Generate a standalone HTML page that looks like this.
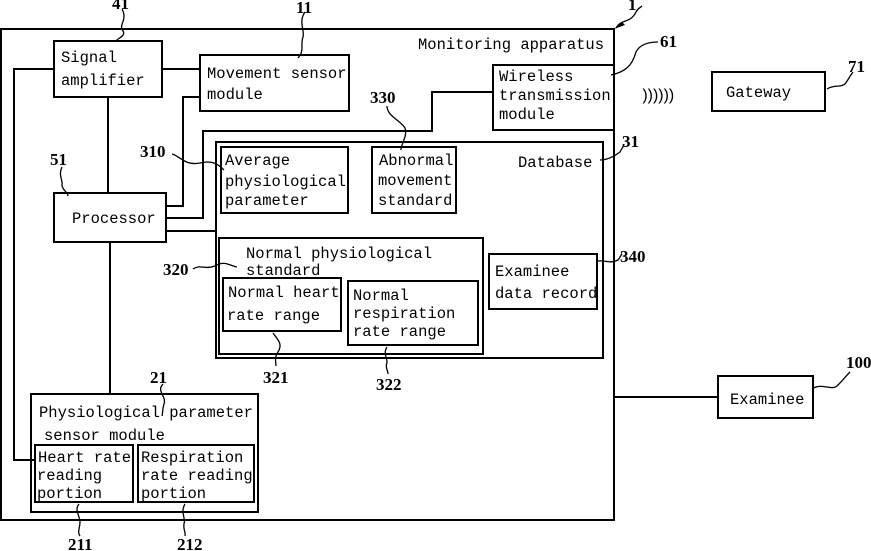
<!DOCTYPE html>
<html><head><meta charset="utf-8"><style>
html,body{margin:0;padding:0;background:#fff;}
svg{display:block;}
text{font-family:"Liberation Mono",monospace;font-size:15.5px;fill:#000;}
.n{font-family:"Liberation Serif",serif;font-weight:bold;font-size:17px;}
</style></head><body>
<svg width="871" height="551" viewBox="0 0 871 551" xmlns="http://www.w3.org/2000/svg">
<g fill="none" stroke="#000" stroke-width="2">
<!-- outer -->
<rect x="1" y="29" width="613" height="491"/>
<!-- boxes -->
<rect x="54" y="41" width="108" height="56"/>
<rect x="200" y="55" width="149" height="56"/>
<rect x="54" y="193" width="112" height="49"/>
<rect x="493" y="65" width="121" height="65"/>
<rect x="216" y="142" width="387" height="216"/>
<rect x="221" y="147" width="127" height="66"/>
<rect x="372" y="147" width="84" height="66"/>
<rect x="219" y="238" width="264" height="116"/>
<rect x="223" y="278" width="118" height="53"/>
<rect x="348" y="281" width="130" height="64"/>
<rect x="489" y="254" width="108" height="55"/>
<rect x="31" y="394" width="227" height="118"/>
<rect x="35" y="445" width="98" height="57"/>
<rect x="138" y="445" width="116" height="57"/>
<rect x="712" y="72" width="113" height="39"/>
<rect x="718" y="376" width="95" height="42"/>
<!-- connectors -->
<polyline points="54,69 14,69 14,460 35,460"/>
<line x1="162" y1="69" x2="200" y2="69"/>
<line x1="108" y1="97" x2="108" y2="193"/>
<line x1="110" y1="242" x2="110" y2="394"/>
<polyline points="166,206 183,206 183,97 200,97"/>
<polyline points="166,218 203,218 203,131 432,131 432,92 493,92"/>
<line x1="166" y1="231" x2="216" y2="231"/>
<line x1="614" y1="397" x2="718" y2="397"/>
</g>
<!-- leader curves -->
<g fill="none" stroke="#000" stroke-width="1.3">
<path d="M122,9 C128,20 118,25 123,31 C126,36 118,38 116,41"/>
<path d="M305,12 C298,22 305,30 303,37 C300,45 305,50 298,58"/>
<path d="M62,167 C58,175 63,180 62,185 C62,190 68,192 68,196"/>
<path d="M172,154 C180,156 185,166 200,163 C212,160 218,164 224,170"/>
<path d="M387,106 C387,116 400,120 405,128 C408,136 400,146 401,150"/>
<path d="M210,93 C205,93 202,92 ..."/>
<path d="M193,269 C200,264 205,270 215,266 C225,260 230,266 237,267"/>
<path d="M273,333 C278,340 283,344 278,352 C274,358 276,362 276,366"/>
<path d="M387,347 C383,353 387,358 387,362 C385,368 388,370 388,374"/>
<path d="M162,382 C157,388 163,392 163,398 C164,104 160,110 163,116" stroke="none"/>
<path d="M162,383 C156,390 163,395 162,401 C161,106 160,110 163,118" stroke="none"/>
<path d="M162,384 C158,390 165,394 163,400 C162,110 160,112 163,118" stroke="none"/>
<path d="M163,384 C158,391 166,396 163,402 C160,408 166,112 163,118" stroke="none"/>
<path d="M164,384 C158,392 167,396 164,404 C162,108 166,112 163,118" stroke="none"/>
<path d="M163,384 C157,392 166,398 164,403 C163,408 162,410 163,414" stroke="none"/>
<path d="M163,384 C156,391 167,397 164,404 C162,410 163,413 162,416"/>
<path d="M79,504 C74,510 80,516 80,522 C80,528 77,532 80,536"/>
<path d="M185,504 C180,512 186,518 184,524 C183,530 186,532 185,536"/>
<path d="M616,28 C622,18 630,24 636,12 C638,8 640,8 642,6"/>
<path d="M611,75 C625,72 632,66 636,52 C640,44 650,42 658,42"/>
<path d="M600,160 C606,160 612,158 620,152 C622,148 624,146 624,144"/>
<path d="M597,261 C606,260 610,264 618,260 C620,258 620,256 622,254"/>
<path d="M827,89 C835,84 840,88 845,84 C848,80 850,76 853,72"/>
<path d="M812,389 C822,382 832,392 838,385 C843,380 846,376 850,372"/>
</g>
<polygon points="614,29 622,22 625,25" fill="#000"/>
<!-- labels -->
<text x="418" y="49">Monitoring apparatus</text>
<text x="61" y="62">Signal</text>
<text x="61" y="85">amplifier</text>
<text x="207" y="78">Movement sensor</text>
<text x="207" y="99">module</text>
<text x="72" y="223" font-size="16">Processor</text>
<text x="499" y="81">Wireless</text>
<text x="499" y="100">transmission</text>
<text x="499" y="119">module</text>
<text x="518" y="167">Database</text>
<text x="225" y="165">Average</text>
<text x="225" y="186">physiological</text>
<text x="225" y="205">parameter</text>
<text x="379" y="165">Abnormal</text>
<text x="378" y="185">movement</text>
<text x="378" y="205">standard</text>
<text x="246" y="258">Normal physiological</text>
<text x="246" y="275">standard</text>
<text x="228" y="297">Normal heart</text>
<text x="227" y="320">rate range</text>
<text x="353" y="300">Normal</text>
<text x="353" y="318">respiration</text>
<text x="353" y="336">rate range</text>
<text x="495" y="276">Examinee</text>
<text x="495" y="298">data record</text>
<text x="39" y="417">Physiological parameter</text>
<text x="44" y="440">sensor module</text>
<text x="38" y="462">Heart rate</text>
<text x="37" y="480">reading</text>
<text x="37" y="498">portion</text>
<text x="141" y="462">Respiration</text>
<text x="141" y="480">rate reading</text>
<text x="141" y="498">portion</text>
<text x="726" y="97">Gateway</text>
<text x="730" y="404">Examinee</text>
<text x="640" y="100" font-size="20" letter-spacing="-4">))))))</text>
<!-- numbers -->
<text class="n" x="112" y="9">41</text>
<text class="n" x="296" y="13">11</text>
<text class="n" x="628" y="10">1</text>
<text class="n" x="660" y="47">61</text>
<text class="n" x="848" y="72">71</text>
<text class="n" x="622" y="147">31</text>
<text class="n" x="370" y="103">330</text>
<text class="n" x="140" y="157">310</text>
<text class="n" x="50" y="165">51</text>
<text class="n" x="163" y="275">320</text>
<text class="n" x="620" y="262">340</text>
<text class="n" x="263" y="383">321</text>
<text class="n" x="376" y="390">322</text>
<text class="n" x="150" y="383">21</text>
<text class="n" x="846" y="368">100</text>
<text class="n" x="68" y="550">211</text>
<text class="n" x="177" y="550">212</text>
</svg>
</body></html>
